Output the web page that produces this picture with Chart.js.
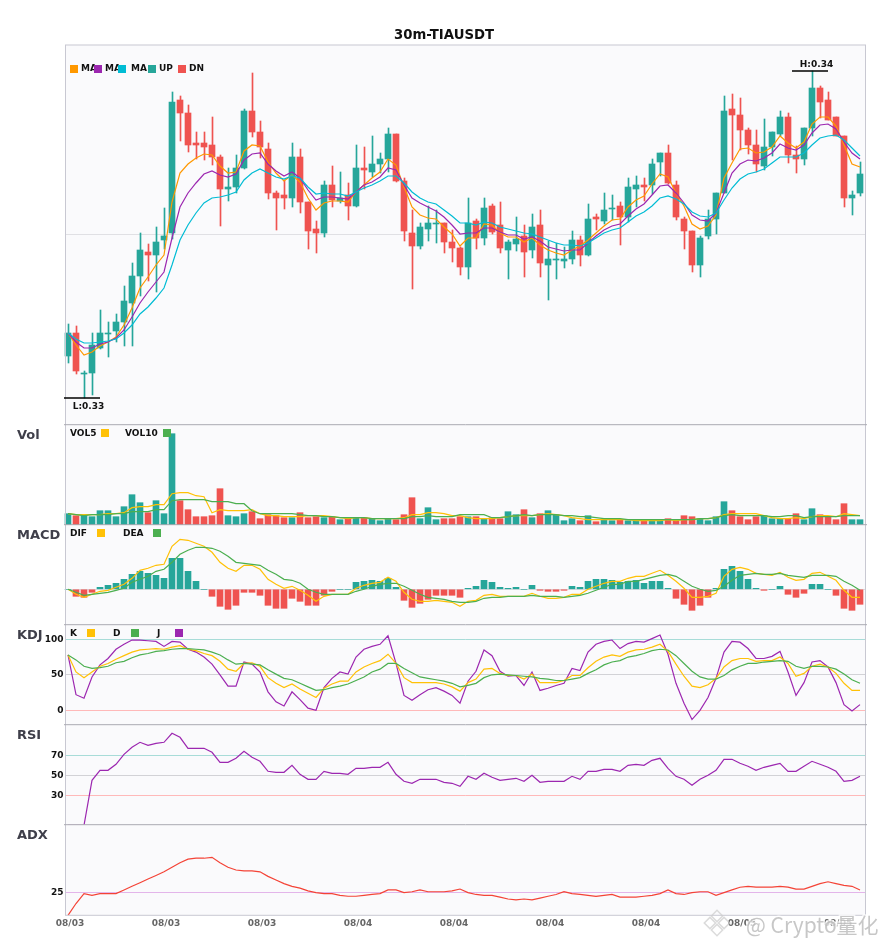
<!DOCTYPE html>
<html>
<head>
<meta charset="utf-8">
<title>30m-TIAUSDT</title>
<script src="https://cdn.jsdelivr.net/npm/chart.js@4/dist/chart.umd.min.js"></script>
<style>
  html, body { margin: 0; padding: 0; background: #fff; overflow: hidden; }
  canvas { display: block; }
</style>
</head>
<body>
<canvas id="kline" width="885" height="950"></canvas>
<script>
const chartTitle = '30m-TIAUSDT';
const xTickIndex = [0, 12, 24, 36, 48, 60, 72, 84, 96];
const xTickLabels = ['08/03', '08/03', '08/03', '08/04', '08/04', '08/04', '08/04', '08/05', '08/05'];

// candles
const opens = [0.33168,0.33260,0.33096,0.33100,0.33200,0.33256,0.33268,0.33304,0.33380,0.33488,
  0.33584,0.33572,0.33632,0.33660,0.34192,0.34140,0.34020,0.34020,0.34012,0.33964,
  0.33836,0.33844,0.33920,0.34148,0.34064,0.33996,0.33820,0.33812,0.33800,0.33964,
  0.33784,0.33676,0.33660,0.33852,0.33788,0.33812,0.33768,0.33920,0.33904,0.33936,
  0.33956,0.34056,0.33868,0.33660,0.33608,0.33676,0.33696,0.33700,0.33624,0.33600,
  0.33524,0.33708,0.33640,0.33768,0.33692,0.33592,0.33616,0.33648,0.33592,0.33692,
  0.33532,0.33552,0.33548,0.33556,0.33632,0.33572,0.33724,0.33708,0.33756,0.33768,
  0.33724,0.33836,0.33852,0.33852,0.33944,0.33980,0.33852,0.33716,0.33668,0.33532,
  0.33648,0.33716,0.33820,0.34156,0.34132,0.34072,0.34012,0.33928,0.34004,0.34056,
  0.34124,0.33972,0.33956,0.34080,0.34240,0.34192,0.34124,0.34048,0.33800,0.33820];
const closes = [0.33260,0.33108,0.33100,0.33212,0.33260,0.33260,0.33304,0.33388,0.33488,0.33592,
  0.33572,0.33624,0.33648,0.34184,0.34140,0.34012,0.34012,0.34004,0.33964,0.33836,
  0.33844,0.33920,0.34148,0.34064,0.34004,0.33820,0.33800,0.33800,0.33964,0.33784,
  0.33668,0.33660,0.33852,0.33792,0.33800,0.33768,0.33920,0.33912,0.33936,0.33956,
  0.34056,0.33868,0.33668,0.33608,0.33684,0.33700,0.33700,0.33624,0.33600,0.33524,
  0.33700,0.33640,0.33760,0.33664,0.33600,0.33624,0.33636,0.33584,0.33684,0.33540,
  0.33556,0.33556,0.33556,0.33632,0.33572,0.33716,0.33716,0.33752,0.33760,0.33724,
  0.33844,0.33852,0.33844,0.33936,0.33980,0.33860,0.33724,0.33668,0.33532,0.33640,
  0.33716,0.33820,0.34148,0.34132,0.34072,0.34012,0.33936,0.34004,0.34064,0.34124,
  0.33972,0.33956,0.34080,0.34240,0.34184,0.34112,0.34048,0.33800,0.33812,0.33896];
const highs = [0.33296,0.33288,0.33108,0.33260,0.33352,0.33304,0.33336,0.33448,0.33540,0.33660,
  0.33616,0.33684,0.33760,0.34224,0.34208,0.34172,0.34064,0.34064,0.34124,0.33972,
  0.33920,0.33972,0.34156,0.34300,0.34108,0.34020,0.33828,0.33872,0.34020,0.33996,
  0.33784,0.33708,0.33868,0.33928,0.33904,0.33860,0.34012,0.34004,0.34048,0.33980,
  0.34080,0.34056,0.33880,0.33752,0.33700,0.33768,0.33752,0.33700,0.33672,0.33604,
  0.33800,0.33716,0.33800,0.33776,0.33784,0.33632,0.33724,0.33692,0.33736,0.33752,
  0.33628,0.33620,0.33604,0.33668,0.33648,0.33776,0.33736,0.33820,0.33812,0.33784,
  0.33880,0.33888,0.33880,0.33956,0.33980,0.34012,0.33868,0.33724,0.33668,0.33648,
  0.33752,0.33820,0.34208,0.34216,0.34200,0.34080,0.34072,0.34116,0.34064,0.34148,
  0.34140,0.34008,0.34080,0.34308,0.34248,0.34224,0.34124,0.34048,0.33828,0.33944];
const lows = [0.33140,0.33096,0.33000,0.33012,0.33196,0.33164,0.33224,0.33208,0.33208,0.33408,
  0.33468,0.33424,0.33596,0.33636,0.34028,0.33984,0.33956,0.33952,0.33932,0.33688,
  0.33788,0.33820,0.33916,0.34044,0.33960,0.33796,0.33672,0.33756,0.33764,0.33740,
  0.33596,0.33580,0.33644,0.33764,0.33780,0.33712,0.33764,0.33836,0.33884,0.33900,
  0.33904,0.33864,0.33628,0.33436,0.33596,0.33628,0.33620,0.33580,0.33544,0.33492,
  0.33476,0.33596,0.33612,0.33656,0.33580,0.33476,0.33588,0.33484,0.33560,0.33484,
  0.33392,0.33476,0.33520,0.33536,0.33528,0.33568,0.33672,0.33696,0.33712,0.33612,
  0.33704,0.33764,0.33788,0.33816,0.33888,0.33856,0.33712,0.33596,0.33504,0.33484,
  0.33636,0.33656,0.33820,0.33952,0.33992,0.33976,0.33904,0.33912,0.33968,0.34048,
  0.33940,0.33900,0.33932,0.34048,0.34120,0.34112,0.34048,0.33764,0.33732,0.33808];

const ma5 = [0.33260,0.33212,0.33172,0.33184,0.33208,0.33224,0.33244,0.33292,0.33360,0.33440,
  0.33484,0.33532,0.33572,0.33784,0.33900,0.33936,0.33960,0.33976,0.33972,0.33928,
  0.33900,0.33904,0.33988,0.34012,0.34008,0.33944,0.33900,0.33868,0.33892,0.33864,
  0.33800,0.33752,0.33780,0.33788,0.33788,0.33784,0.33824,0.33852,0.33880,0.33904,
  0.33956,0.33932,0.33844,0.33764,0.33732,0.33720,0.33716,0.33684,0.33656,0.33608,
  0.33640,0.33640,0.33696,0.33692,0.33660,0.33644,0.33644,0.33624,0.33640,0.33612,
  0.33592,0.33580,0.33572,0.33592,0.33608,0.33632,0.33660,0.33688,0.33712,0.33716,
  0.33764,0.33792,0.33808,0.33856,0.33896,0.33884,0.33820,0.33768,0.33696,0.33676,
  0.33688,0.33732,0.33880,0.33940,0.33996,0.34000,0.33980,0.33984,0.34004,0.34048,
  0.34020,0.34000,0.34024,0.34096,0.34124,0.34124,0.34088,0.34012,0.33936,0.33924];
const ma10 = [0.33260,0.33224,0.33200,0.33200,0.33216,0.33224,0.33240,0.33272,0.33324,0.33380,
  0.33424,0.33464,0.33504,0.33640,0.33764,0.33820,0.33860,0.33896,0.33908,0.33892,
  0.33884,0.33896,0.33952,0.33976,0.33980,0.33936,0.33908,0.33888,0.33904,0.33880,
  0.33832,0.33792,0.33804,0.33804,0.33800,0.33796,0.33824,0.33852,0.33864,0.33884,
  0.33920,0.33912,0.33852,0.33800,0.33780,0.33764,0.33748,0.33724,0.33692,0.33656,
  0.33660,0.33660,0.33680,0.33680,0.33664,0.33652,0.33652,0.33636,0.33644,0.33628,
  0.33604,0.33596,0.33588,0.33592,0.33592,0.33620,0.33648,0.33672,0.33688,0.33696,
  0.33728,0.33756,0.33776,0.33812,0.33848,0.33852,0.33820,0.33780,0.33732,0.33712,
  0.33708,0.33740,0.33820,0.33900,0.33936,0.33952,0.33948,0.33960,0.33980,0.34016,
  0.34000,0.33992,0.34012,0.34060,0.34092,0.34096,0.34076,0.34024,0.33980,0.33956];
const ma20 = [0.33260,0.33236,0.33220,0.33220,0.33224,0.33228,0.33236,0.33260,0.33292,0.33336,
  0.33364,0.33400,0.33440,0.33532,0.33632,0.33692,0.33740,0.33780,0.33800,0.33804,
  0.33812,0.33824,0.33872,0.33900,0.33916,0.33900,0.33884,0.33876,0.33888,0.33880,
  0.33844,0.33816,0.33820,0.33816,0.33816,0.33808,0.33824,0.33840,0.33852,0.33868,
  0.33888,0.33888,0.33860,0.33824,0.33800,0.33784,0.33776,0.33752,0.33728,0.33700,
  0.33700,0.33692,0.33704,0.33700,0.33684,0.33676,0.33668,0.33660,0.33656,0.33644,
  0.33632,0.33620,0.33612,0.33612,0.33608,0.33620,0.33640,0.33660,0.33672,0.33680,
  0.33704,0.33728,0.33744,0.33768,0.33800,0.33808,0.33796,0.33776,0.33744,0.33728,
  0.33724,0.33740,0.33792,0.33840,0.33876,0.33896,0.33904,0.33916,0.33940,0.33964,
  0.33964,0.33964,0.33980,0.34012,0.34040,0.34048,0.34052,0.34032,0.34000,0.33968];

// volume, thousands
const volume = [11,9,9,8,14,14,8,18,30,22,12,24,11,91,24,15,8,8,9,36,9,8,11,13,6,10,9,7,7,12,
  7,8,7,8,5,7,7,7,6,4,6,5,10,27,6,17,5,6,6,8,8,8,6,7,6,13,10,15,7,11,14,10,4,6,4,9,
  3,5,4,5,4,5,4,4,4,6,4,9,8,6,4,8,23,14,8,5,8,9,6,6,6,11,5,16,10,8,5,21,5,5];
const vol5 = [11,10,10,10,10,11,11,12,17,18,18,20,20,31,32,32,29,28,12,15,14,14,14,15,11,9,9,8,8,8,
  9,9,9,8,7,6,7,7,6,6,6,6,7,10,10,12,12,11,9,9,7,6,6,6,7,8,9,9,9,10,11,10,9,7,6,5,
  5,5,5,5,5,4,4,4,4,5,4,5,5,6,6,7,10,11,11,11,11,9,7,6,6,7,6,8,9,9,8,11,10,9];
const vol10 = [11,10,9,10,10,10,11,11,13,13,13,15,15,24,25,25,25,25,23,23,23,21,21,14,11,11,11,11,11,10,
  9,9,8,8,7,7,7,7,6,6,6,6,6,8,8,9,8,8,8,10,10,10,10,7,7,8,9,10,9,10,10,10,9,9,8,8,
  7,6,6,6,5,5,5,5,5,5,5,5,5,6,6,7,9,10,9,9,9,9,8,8,9,9,7,8,8,8,8,9,9,9];

// macd, in 0.00001 of price
const macdHist = [0,-7,-8,-3,2,4,6,10,15,18,16,14,11,31,31,18,8,0,-7,-17,-20,-16,-3,-3,-6,-16,-19,-19,-9,-12,
  -16,-16,-6,-2,0,0,7,8,9,8,11,2,-11,-18,-14,-10,-6,-6,-6,-8,1,3,9,7,2,1,2,0,4,-1,-2,-2,-1,3,2,8,
  10,10,9,7,8,9,6,8,8,1,-9,-15,-21,-16,-8,1,20,23,18,10,1,-1,0,3,-5,-8,-4,5,5,0,-6,-19,-21,-15];
const dif = [0,-5,-8,-5,-2,-1,2,5,11,19,21,24,25,43,50,49,46,43,37,27,21,18,24,24,20,10,5,1,3,-1,
  -6,-12,-7,-5,-5,-5,1,4,6,7,12,8,-3,-10,-12,-12,-11,-12,-13,-17,-12,-11,-6,-5,-7,-7,-7,-7,-4,-7,-9,-9,-8,-5,-5,0,
  3,6,8,8,11,13,13,16,19,14,8,1,-8,-8,-7,-4,13,20,22,20,16,15,14,17,12,9,10,16,17,13,9,-1,-8,-8];
const dea = [0,-3,-6,-5,-4,-3,-1,1,7,10,13,18,20,27,35,39,42,42,41,38,33,27,26,25,24,19,15,10,9,6,
  0,-3,-5,-5,-5,-5,-2,0,3,5,6,6,3,-1,-5,-8,-9,-10,-12,-13,-13,-12,-9,-8,-8,-7,-7,-7,-6,-7,-7,-7,-8,-7,-6,-4,
  -1,2,5,5,8,8,10,12,14,15,13,8,3,0,-2,-1,3,9,14,15,16,15,15,16,14,13,12,14,14,14,13,8,4,-1];

const kdjK = [78,54,46,54,62,66,72,77,82,85,86,87,86,89,91,86,84,80,77,69,58,55,66,67,62,46,38,32,37,30,
  24,18,31,37,41,41,54,61,66,70,79,66,46,39,39,39,39,37,33,27,39,44,58,59,52,49,49,44,51,39,39,39,42,49,49,60,
  69,75,78,76,82,85,86,89,93,83,65,48,34,32,36,45,61,70,73,73,69,70,70,75,66,48,52,62,65,61,52,38,28,28];
const kdjD = [78,71,62,59,60,62,67,69,74,78,80,83,84,86,87,87,86,85,82,78,71,65,66,65,64,57,51,45,43,38,
  33,28,29,32,34,37,42,47,54,58,66,66,59,53,47,45,43,41,38,33,35,38,46,50,51,50,49,48,47,45,44,42,42,44,46,52,
  57,64,68,70,75,77,80,84,86,85,77,66,55,47,44,44,49,57,62,66,66,68,69,70,69,62,59,62,62,61,58,51,43,38];
const kdjJ = [78,22,17,47,64,73,86,93,99,99,98,97,90,97,96,86,82,75,65,50,34,34,68,65,54,26,12,6,26,15,
  3,0,32,45,54,51,75,86,90,93,105,66,21,14,22,29,32,27,21,10,41,55,85,77,55,48,49,35,54,28,31,35,38,59,56,82,
  93,97,99,87,94,97,96,101,106,79,38,10,-13,0,18,45,82,97,96,87,73,73,76,83,54,21,39,68,70,61,39,8,-1,8];

const rsi = [0,0,0,45,55,55,61,71,78,83,80,82,83,92,88,77,77,77,73,63,63,67,74,68,64,54,53,53,60,51,
  46,46,54,52,52,51,57,57,58,58,63,51,44,42,46,46,46,43,42,39,49,46,52,48,45,46,47,44,50,43,44,44,44,49,46,54,
  54,56,56,54,60,61,60,65,67,57,49,46,40,46,50,55,66,66,62,59,55,58,60,62,54,54,59,64,61,58,54,44,45,49];

const adx = [0,13,24,22,24,24,24,28,32,36,40,44,48,53,58,62,63,63,64,58,53,50,49,49,48,43,39,35,32,30,
  27,25,24,24,22,21,21,22,23,24,28,28,25,26,28,26,26,26,27,29,25,23,22,22,20,18,17,18,17,19,21,23,26,24,23,22,
  21,22,23,20,20,20,21,22,24,28,24,23,25,26,26,22,25,28,31,32,31,31,31,32,31,29,29,32,35,37,35,33,32,28];

const UP = '#26a69a', DOWN = '#ef5350';
const MA5C = '#ff9800', MA10C = '#9c27b0', MA20C = '#00bcd4';
const YEL = '#ffc107', GRN = '#4caf50', PUR = '#9c27b0', RED = '#f44336';
const FONT = '"DejaVu Sans"';

const candleColors = opens.map((o, i) => closes[i] >= o ? UP : DOWN);
const xy = arr => arr.map((v, i) => ({x: i, y: v}));

function lineSet(arr, color, axis, width) {
  return {
    type: 'line', data: xy(arr), yAxisID: axis, borderColor: color,
    borderWidth: width || 1.2, pointRadius: 0, tension: 0, order: 1
  };
}

function barSet(arr, colors, axis) {
  return {
    type: 'bar', data: xy(arr), yAxisID: axis, backgroundColor: colors,
    barThickness: 6, grouped: false, order: 5, clip: false
  };
}

// y axis with a fixed set of lines, each with its own colour
function panelAxis(stackWeight, min, max, lines, colors, labels) {
  return {
    type: 'linear', position: 'left', stack: 'panels', stackWeight, min, max,
    afterFit: s => { s.width = 65.5; },
    afterBuildTicks: s => { s.ticks = lines.map(v => ({value: v})); },
    border: {display: false},
    grid: {
      drawTicks: false, lineWidth: 1,
      color: c => colors[lines.indexOf(c.tick && c.tick.value)] || 'transparent'
    },
    ticks: {
      autoSkip: false, padding: 2, color: '#111',
      font: {family: FONT, size: 9, weight: 'bold'},
      callback: v => labels ? String(v) : ''
    }
  };
}

function text(ctx, str, x, y, font, color, align) {
  ctx.font = font;
  ctx.fillStyle = color;
  ctx.textAlign = align || 'left';
  ctx.textBaseline = 'middle';
  ctx.fillText(str, x, y);
}

function swatch(ctx, x, y, color) {
  ctx.fillStyle = color;
  ctx.fillRect(x, y, 8, 8);
}

const frame = {
  id: 'frame',
  beforeDraw(chart) {
    const {ctx, chartArea: a} = chart;
    ctx.save();
    ctx.fillStyle = '#fafafc';
    ctx.fillRect(a.left, a.top, a.width, a.height);
    ctx.restore();
  },
  afterDatasetsDraw(chart) {
    const {ctx, chartArea: a, scales} = chart;
    ctx.save();
    ctx.lineWidth = 1;
    ctx.strokeStyle = '#c8c8d2';
    ctx.strokeRect(a.left, a.top, a.width, a.height);
    ctx.strokeStyle = '#ababb2';
    ['yVol', 'yMacd', 'yKdj', 'yRsi', 'yAdx'].forEach(id => {
      const y = scales[id].top;
      ctx.beginPath();
      ctx.moveTo(a.left - 1.5, y);
      ctx.lineTo(a.right + 1.5, y);
      ctx.stroke();
    });
    ctx.restore();
  }
};

const notes = {
  id: 'notes',
  afterDraw(chart) {
    const {ctx, scales} = chart;
    const bold9 = 'bold 9px ' + FONT, bold13 = 'bold 13px ' + FONT;
    ctx.save();
    text(ctx, chartTitle, 444, 36, 'bold 13.25px ' + FONT, '#111', 'center');

    // main legend
    [['MA', 81], ['MA', 105], ['MA', 131], ['UP', 159], ['DN', 189]]
      .forEach(([t, tx]) => { text(ctx, t, tx, 69, bold9, '#111'); });
    [[70, MA5C], [94, MA10C], [118, MA20C], [148, UP], [178, DOWN]].forEach(([sx, c]) => swatch(ctx, sx, 65, c));

    // panel names
    [['Vol', 436], ['MACD', 536], ['KDJ', 636], ['RSI', 736], ['ADX', 836]]
      .forEach(([t, y]) => text(ctx, t, 17, y, bold13, '#3f3f4a'));

    // panel legends
    [['VOL5', 70, 101, YEL, 429], ['VOL10', 125, 163, GRN, 429],
     ['DIF', 70, 97, YEL, 529], ['DEA', 123, 153, GRN, 529],
     ['K', 70, 87, YEL, 629], ['D', 113, 131, GRN, 629], ['J', 157, 175, PUR, 629]]
      .forEach(([t, tx, sx, c, y]) => {
        text(ctx, t, tx, y + 4.5, bold9, '#111');
        swatch(ctx, sx, y, c);
      });

    // highest and lowest price marks
    const hi = Math.max(...highs), lo = Math.min(...lows);
    const marks = [[highs.indexOf(hi), hi, 'H:', -6.5], [lows.indexOf(lo), lo, 'L:', 9]];
    marks.forEach(([i, v, pre, dy]) => {
      const x = scales.x.getPixelForValue(i), y = scales.yMain.getPixelForValue(v);
      ctx.strokeStyle = '#000';
      ctx.lineWidth = 1.3;
      ctx.beginPath();
      ctx.moveTo(x - 20, y);
      ctx.lineTo(x + 16, y);
      ctx.stroke();
      text(ctx, pre + v.toFixed(2), x + 4.5, y + dy, bold9, '#111', 'center');
    });

    // watermark
    ctx.globalAlpha = 0.75;
    ctx.strokeStyle = '#fff';
    ctx.lineWidth = 3;
    ctx.font = '21px "Noto Sans CJK SC"';
    ctx.textAlign = 'left';
    ctx.textBaseline = 'middle';
    ctx.strokeText('@ Crypto量化', 746, 925);
    text(ctx, '@ Crypto量化', 746, 925, '21px "Noto Sans CJK SC"', '#b4b4b4');
    ctx.translate(717, 923);
    ctx.rotate(Math.PI / 4);
    ctx.strokeStyle = '#cfcfcf';
    ctx.lineWidth = 1.5;
    [[-9, -9], [1, -9], [-9, 1], [1, 1]].forEach(([qx, qy]) => ctx.strokeRect(qx, qy, 8, 8));
    ctx.restore();
  }
};

new Chart(document.getElementById('kline'), {
  data: {
    datasets: [
      // wicks sit half a pixel right of the body centre
      {type: 'bar', data: lows.map((l, i) => ({x: i + 0.0625, y: [l, highs[i]]})), yAxisID: 'yMain',
        backgroundColor: candleColors, barThickness: 1, grouped: false, order: 6, clip: false},
      {type: 'bar', data: opens.map((o, i) => ({x: i, y: [o, closes[i]]})), yAxisID: 'yMain',
        backgroundColor: candleColors, barThickness: 6, grouped: false, order: 5, clip: false},
      lineSet(ma20, MA20C, 'yMain'),
      lineSet(ma10, MA10C, 'yMain'),
      lineSet(ma5, MA5C, 'yMain'),
      barSet(volume, candleColors, 'yVol'),
      lineSet(vol10, GRN, 'yVol'),
      lineSet(vol5, YEL, 'yVol'),
      barSet(macdHist, macdHist.map(v => v >= 0 ? UP : DOWN), 'yMacd'),
      lineSet(dea, GRN, 'yMacd'),
      lineSet(dif, YEL, 'yMacd'),
      lineSet(kdjD, GRN, 'yKdj'),
      lineSet(kdjK, YEL, 'yKdj'),
      lineSet(kdjJ, PUR, 'yKdj'),
      lineSet(rsi, PUR, 'yRsi'),
      lineSet(adx, RED, 'yAdx')
    ]
  },
  options: {
    responsive: false,
    animation: false,
    devicePixelRatio: 1,
    layout: {padding: {top: 45, right: 19.5, left: 0, bottom: 0}},
    plugins: {legend: {display: false}, title: {display: false}, tooltip: {enabled: false}},
    scales: {
      x: {
        type: 'linear', offset: false, min: -0.3125, max: 99.6875,
        afterFit: s => { s.height = 34.7; },
        afterBuildTicks: s => { s.ticks = xTickIndex.map(v => ({value: v})); },
        border: {display: false},
        grid: {display: false, drawTicks: false},
        ticks: {
          autoSkip: false, maxRotation: 0, padding: 3, labelOffset: 2, color: '#666',
          font: {family: FONT, size: 9, weight: 'bold'},
          callback: v => xTickLabels[xTickIndex.indexOf(v)]
        }
      },
      // left stacked axes are placed last-defined on top
      yAdx: panelAxis(90.6, 0, 100, [25], ['#e3b5ea'], true),
      yRsi: panelAxis(100, 0.6, 100.6, [30, 50, 70], ['#ffb9b9', '#d2d2d6', '#a8dcd8'], true),
      yKdj: panelAxis(100, -20.3, 120.6, [0, 50, 100], ['#ffb9b9', '#d2d2d6', '#a8dcd8'], true),
      yMacd: panelAxis(100, -35.4, 64.6, [0], ['#dcdce0'], false),
      yVol: panelAxis(100, 0, 100, [], [], false),
      yMain: panelAxis(379.7, 0.328932, 0.34412, [0.33654], ['#e0e0e4'], false)
    }
  },
  plugins: [frame, notes]
});
</script>
</body>
</html>
